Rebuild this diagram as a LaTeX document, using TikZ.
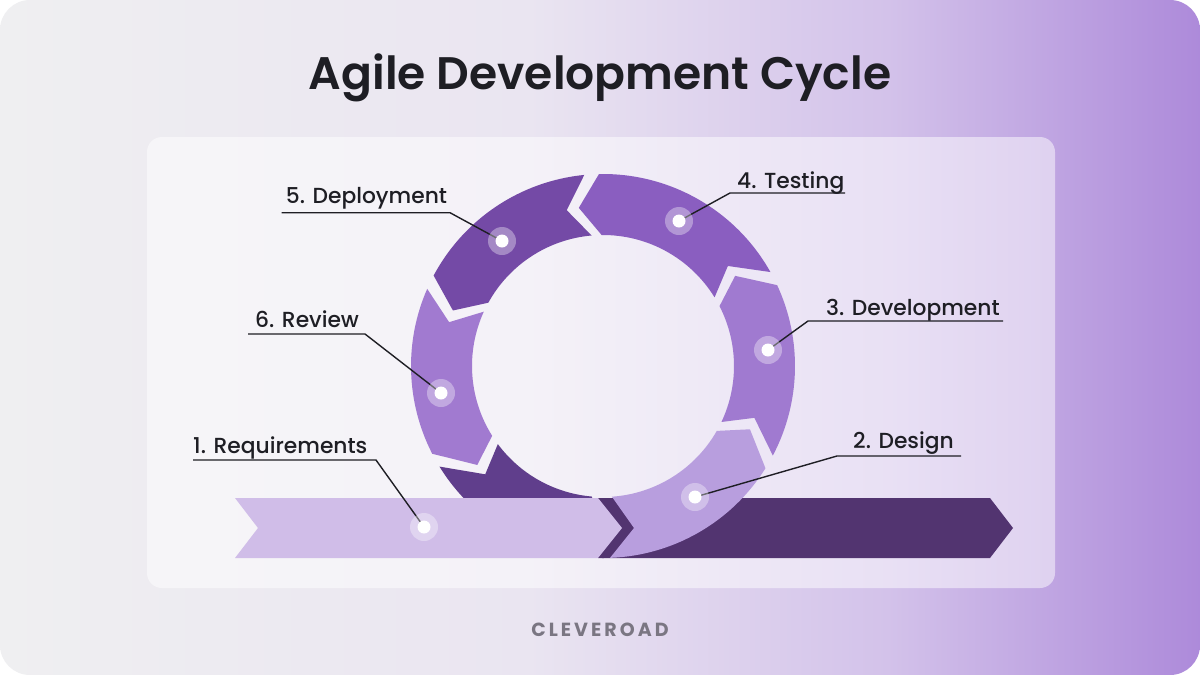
\documentclass[tikz,border=0pt]{standalone}
\usepackage{fontspec}
\setmainfont{Poppins}
\IfFontExistsTF{Poppins Medium}{\newfontfamily\lblfont{Poppins Medium}}{\newfontfamily\lblfont{Poppins}}
\IfFontExistsTF{Poppins SemiBold}{\newfontfamily\ttlfont{Poppins SemiBold}}{\newfontfamily\ttlfont{Poppins}}
\usetikzlibrary{calc}
\definecolor{bgA}{HTML}{EFEFF1}
\definecolor{bgB}{HTML}{EAE5F1}
\definecolor{bgC}{HTML}{D3C2EA}
\definecolor{bgD}{HTML}{AD8ADA}
\definecolor{reqc}{HTML}{D0BDE8}
\definecolor{desc}{HTML}{B89EDE}
\definecolor{devc}{HTML}{A07AD0}
\definecolor{tstc}{HTML}{8A5EC0}
\definecolor{depc}{HTML}{744AA6}
\definecolor{revc}{HTML}{A17AD0}
\definecolor{darkring}{HTML}{603E8C}
\definecolor{darkarrow}{HTML}{523470}
\definecolor{inkc}{HTML}{1E1E24}
\definecolor{brandc}{HTML}{7A7682}
\pgfdeclarehorizontalshading{bgshade}{100bp}{color(0bp)=(bgA); color(25bp)=(bgA); color(47bp)=(bgB); color(62bp)=(bgC); color(75bp)=(bgD); color(100bp)=(bgD)}
\def\Ro{192}
\def\Ri{131}
\def\Rm{160}
\def\g{2.2}
% ring segment: name, colour, start outer/inner/tip angle, end outer/inner/tip angle (math angles)
\newcommand{\ringseg}[8]{%
  \coordinate (#1-a) at ($(C)+({-(#3+\g)}:\Ro)$);
  \coordinate (#1-b) at ($(C)+({-(#8-\g)}:\Rm)$);
  \coordinate (#1-c) at ($(C)+({-(#7-\g)}:\Ri)$);
  \coordinate (#1-d) at ($(C)+({-(#5+\g)}:\Rm)$);
  \fill[#2] (#1-a) arc[start angle={-(#3+\g)}, end angle={-(#6-\g)}, radius=\Ro]
     -- (#1-b) -- (#1-c) arc[start angle={-(#7-\g)}, end angle={-(#4+\g)}, radius=\Ri]
     -- (#1-d) -- cycle;}
\tikzset{
  lbl/.style={font=\lblfont\fontsize{21.8}{25}\selectfont, text=inkc, inner sep=0pt, anchor=base west},
  leader/.style={draw=inkc, line width=1.4pt},
  halo/.style={circle, fill=white, fill opacity=0.35, minimum size=28pt, inner sep=0pt},
  dotc/.style={circle, fill=white, minimum size=13pt, inner sep=0pt}
}
\begin{document}
\begin{tikzpicture}[x=1pt,y=-1pt]
\useasboundingbox (0,0) rectangle (1200,675);
\fill[white] (0,0) rectangle (1200,675);
\shade[shading=bgshade, shading angle=0, rounded corners=30pt] (0,0) rectangle (1200,675);
\fill[white, fill opacity=0.5, rounded corners=15pt] (147,137) rectangle (1055,588);

\node[font=\ttlfont\fontsize{45.6}{52}\selectfont, text=inkc] (title) at (600,78) {Agile Development Cycle};

\coordinate (C) at (603,366);

% dark part of the ring and the outgoing arrow
\coordinate (dk-a) at ($(C)+({-(209.4+\g)}:\Ro)$);
\coordinate (dk-c) at ($(C)+(-265:\Ri)$);
\coordinate (dk-d) at ($(C)+({-(220.4+\g)}:\Rm)$);
\fill[darkring] (dk-a) arc[start angle={-(209.4+\g)}, end angle=-275, radius=\Ro]
   -- (dk-c) arc[start angle=-265, end angle={-(214.4+\g)}, radius=\Ri] -- (dk-d) -- cycle;
\fill[darkarrow] (598,498) -- (990,498) -- (1013,528) -- (990,558) -- (598,558) -- cycle;

% requirements arrow
\fill[reqc] (235,498) -- (598,498) -- (622,528) -- (598,558) -- (235,558) -- (258,528) -- cycle;

% design segment
\coordinate (ds-a) at ($(C)+(87.9:\Ro)$);
\coordinate (ds-b) at ($(C)+({-(-21.1-\g)}:\Rm)$);
\coordinate (ds-c) at ($(C)+({-(-27.5-\g)}:\Ri)$);
\coordinate (ds-d) at (634,528);
\fill[desc] (ds-a) arc[start angle=87.9, end angle={-(-30-\g)}, radius=\Ro]
   -- (ds-b) -- (ds-c) arc[start angle={-(-27.5-\g)}, end angle=86.1, radius=\Ri] -- (ds-d) -- cycle;

\ringseg{dv}{devc}{-30}{-27.5}{-21.1}{27.1}{29.4}{36.5}
\ringseg{ts}{tstc}{27.1}{29.4}{36.5}{93.4}{92.8}{100.9}
\ringseg{dp}{depc}{93.4}{92.8}{100.9}{154.1}{153.3}{161.9}
\ringseg{rv}{revc}{154.1}{153.3}{161.9}{209.4}{214.4}{220.4}

% labels
\node[lbl] (l1) at (193,453) {1. Requirements};
\node[lbl] (l2) at (853,448) {2. Design};
\node[lbl] (l3) at (826,315) {3. Development};
\node[lbl] (l4) at (737,188) {4. Testing};
\node[lbl] (l5) at (285.7,203.3) {5. Deployment};
\node[lbl] (l6) at (255,327) {6. Review};

% dots
\coordinate (d1) at (424,527);
\coordinate (d2) at (695,497);
\coordinate (d3) at (768,350);
\coordinate (d4) at (679,221);
\coordinate (d5) at (502,241);
\coordinate (d6) at (441,393);

% underline corners
\coordinate (u1a) at (193,460); \coordinate (u1b) at (376,460);
\coordinate (u2a) at (961,456); \coordinate (u2b) at (837,456);
\coordinate (u3a) at (1003,321); \coordinate (u3b) at (808,321);
\coordinate (u4a) at (845,193); \coordinate (u4b) at (730,193);
\coordinate (u5a) at (281.7,212.7); \coordinate (u5b) at (450,212.7);
\coordinate (u6a) at (248,334); \coordinate (u6b) at (365,334);

\draw[leader] (u1a) -- (u1b) -- (d1);
\draw[leader] (u2a) -- (u2b) -- (d2);
\draw[leader] (u3a) -- (u3b) -- (d3);
\draw[leader] (u4a) -- (u4b) -- (d4);
\draw[leader] (u5a) -- (u5b) -- (d5);
\draw[leader] (u6a) -- (u6b) -- (d6);

\foreach \d in {d1,d2,d3,d4,d5,d6}{
  \node[halo] at (\d) {};
  \node[dotc] at (\d) {};
}

\node[font=\bfseries\fontsize{19}{22}\selectfont\addfontfeature{LetterSpace=16}, text=brandc] (brand) at (600,630) {CLEVEROAD};
\end{tikzpicture}
\end{document}
